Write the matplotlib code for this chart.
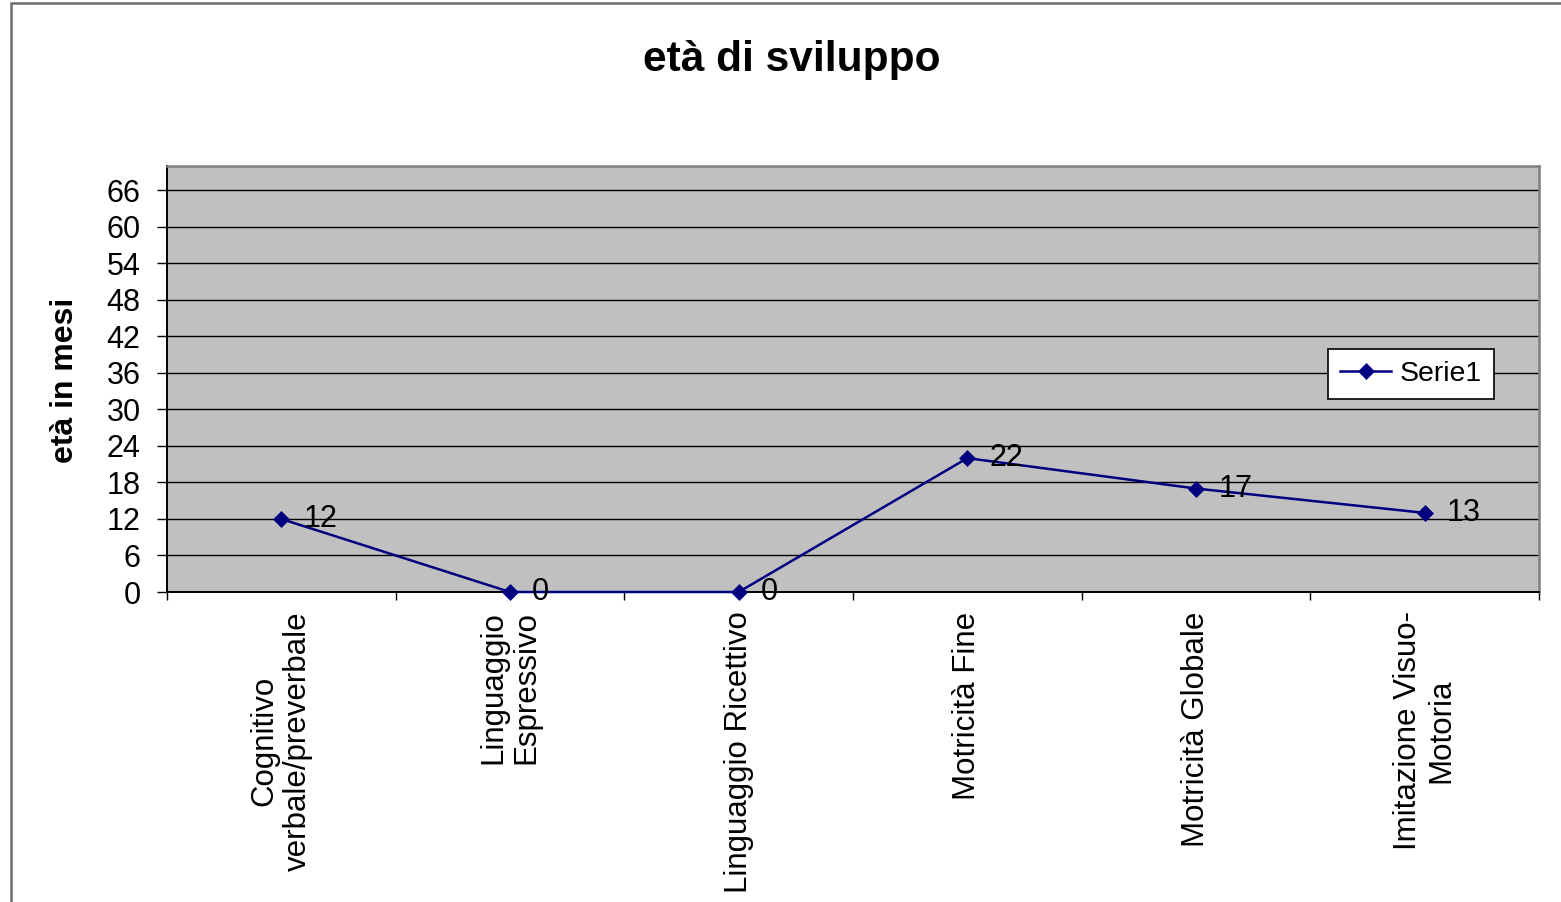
import matplotlib.pyplot as plt
from matplotlib.patches import Rectangle

plt.rcParams['font.family'] = ['Liberation Sans', 'DejaVu Sans']

# dati
categorie = ['Cognitivo\nverbale/preverbale', 'Linguaggio\nEspressivo',
             'Linguaggio Ricettivo', 'Motricità Fine', 'Motricità Globale',
             'Imitazione Visuo-\nMotoria']
serie1 = [12, 0, 0, 22, 17, 13]
y_ticks = [0, 6, 12, 18, 24, 30, 36, 42, 48, 54, 60, 66]

W, H = 1561, 902
fig = plt.figure(figsize=(W / 100, H / 100), dpi=100)

# cornice esterna del grafico (tagliata a destra e in basso)
fig.patches.append(Rectangle((11 / W, -0.05), 1.1, 1 - 3 / H + 0.05,
                             transform=fig.transFigure, fill=False,
                             edgecolor='#6e6e6e', linewidth=1.8))

ax = fig.add_axes([167 / W, 1 - 592 / H, (1539 - 167) / W, (592 - 166) / H])
ax.set_facecolor('#c0c0c0')

x = list(range(len(categorie)))
ax.plot(x, serie1, color='#000080', linewidth=1.8, marker='D',
        markersize=8.5, markeredgewidth=0.5, label='Serie1', zorder=3,
        clip_on=False)

for xi, v in zip(x, serie1):
    ax.annotate(str(v), (xi, v), xytext=(16, 0), textcoords='offset points',
                ha='left', va='center', fontsize=22, color='black')

ax.set_xlim(-0.5, len(categorie) - 0.5)
ax.set_ylim(0, 70)
ax.set_yticks(y_ticks)
ax.set_yticklabels([str(t) for t in y_ticks])
ax.yaxis.grid(True, color='black', linewidth=1.0)
ax.set_axisbelow(True)

ax.set_xticks(x)
ax.set_xticklabels(categorie, rotation=90, fontsize=22.5, ha='center',
                   va='top', multialignment='center', linespacing=1.15)
ax.set_xticks([i - 0.5 for i in range(len(categorie) + 1)], minor=True)
ax.tick_params(axis='x', which='major', length=0, pad=14)
ax.tick_params(axis='x', which='minor', length=6, width=1.0, direction='out')
ax.tick_params(axis='y', length=7, width=1.0, direction='out', pad=12,
               labelsize=22)

for s in ['top', 'right']:
    ax.spines[s].set_color('#808080')
    ax.spines[s].set_linewidth(1.8)
for s in ['left', 'bottom']:
    ax.spines[s].set_color('black')
    ax.spines[s].set_linewidth(1.4)

fig.text(792 / W, 1 - 60 / H, 'età di sviluppo', ha='center', va='center',
         fontsize=30.5, fontweight='bold')
fig.text(65 / W, 1 - 380 / H, 'età in mesi', ha='center', va='center',
         rotation=90, fontsize=23, fontweight='bold')

leg = ax.legend(loc='upper right', bbox_to_anchor=(1494 / W, 1 - 349 / H),
                bbox_transform=fig.transFigure, borderaxespad=0,
                fontsize=20.5, fancybox=False, framealpha=1, edgecolor='black',
                handlelength=1.8, handletextpad=0.3, borderpad=0.42)
leg.get_frame().set_linewidth(1.2)

fig.savefig('out.png', dpi=100)
